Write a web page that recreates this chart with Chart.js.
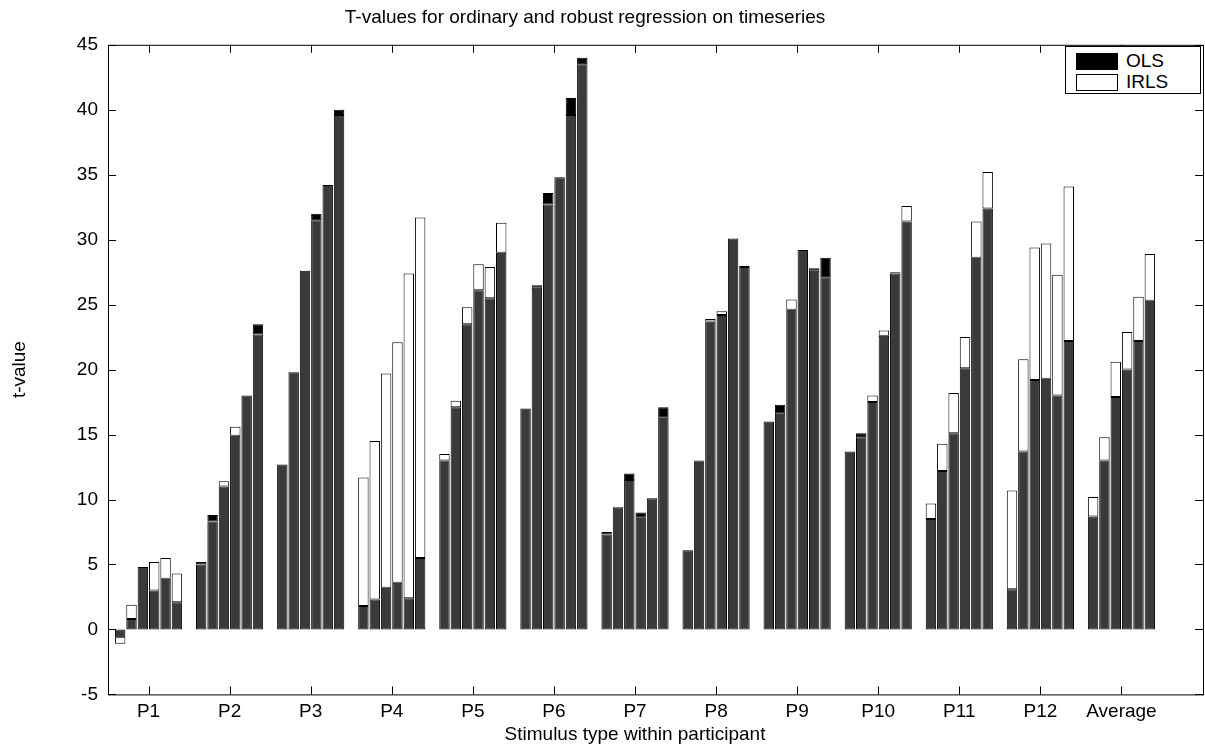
<!DOCTYPE html>
<html>
<head>
  <meta charset="UTF-8" />
  <script src="https://cdn.jsdelivr.net/npm/chart.js"></script>
  <style>
    body { margin: 0; background: #fff; }
    #wrap { position: relative; width: 1205px; height: 746px; }
    #legend {
      position: absolute; left: 1065px; top: 46px; width: 134px; height: 46px;
      border: 1px solid #000; background: #fff; font: 19px "Liberation Sans", Arial, sans-serif;
    }
    .row { position: absolute; left: 10px; height: 18px; }
    .sw { display: inline-block; width: 40px; height: 15px; border: 1px solid #000; vertical-align: middle; margin-right: 8px; }
  </style>
</head>
<body>
<div id="wrap">
  <canvas id="c" width="1205" height="746"></canvas>
  <div id="legend">
    <div class="row" style="top:3px"><span class="sw" style="background:#000"></span>OLS</div>
    <div class="row" style="top:24px"><span class="sw" style="background:#fff"></span>IRLS</div>
  </div>
</div>
<script>
  const groups = ['P1','P2','P3','P4','P5','P6','P7','P8','P9','P10','P11','P12','Average'];
  // t-values per group, 6 stimulus types each
  const ols = [
    [-0.6, 0.8, 4.8, 3.0, 3.9, 2.1],
    [5.2, 8.8, 11.0, 14.9, 18.0, 23.5],
    [12.7, 19.8, 27.6, 32.0, 34.2, 40.0],
    [1.8, 2.3, 3.2, 3.6, 2.4, 5.5],
    [13.0, 17.1, 23.5, 26.1, 25.5, 29.0],
    [17.0, 26.5, 33.6, 34.8, 40.9, 44.0],
    [7.5, 9.4, 12.0, 9.0, 10.1, 17.1],
    [6.1, 13.0, 23.7, 24.2, 30.1, 28.0],
    [16.0, 17.3, 24.6, 29.2, 27.8, 28.6],
    [13.7, 15.1, 17.5, 22.6, 27.5, 31.4],
    [8.5, 12.2, 15.1, 20.1, 28.6, 32.4],
    [3.1, 13.7, 19.2, 19.3, 18.0, 22.2],
    [8.7, 13.0, 17.9, 20.0, 22.2, 25.3]
  ];
  const irls = [
    [-1.1, 1.9, 4.8, 5.2, 5.5, 4.3],
    [5.0, 8.3, 11.4, 15.6, 18.0, 22.7],
    [12.7, 19.8, 27.6, 31.5, 34.2, 39.6],
    [11.7, 14.5, 19.7, 22.1, 27.4, 31.7],
    [13.5, 17.6, 24.8, 28.1, 27.9, 31.3],
    [17.0, 26.3, 32.7, 34.8, 39.6, 43.5],
    [7.3, 9.4, 11.5, 8.6, 10.1, 16.3],
    [6.1, 12.9, 23.9, 24.5, 30.1, 27.9],
    [16.0, 16.6, 25.4, 29.2, 27.6, 27.1],
    [13.7, 14.8, 18.0, 23.0, 27.4, 32.6],
    [9.7, 14.3, 18.2, 22.5, 31.4, 35.2],
    [10.7, 20.8, 29.4, 29.7, 27.3, 34.1],
    [10.2, 14.8, 20.6, 22.9, 25.6, 28.9]
  ];
  const yTicks = [-5, 0, 5, 10, 15, 20, 25, 30, 35, 40, 45];

  const FONT = '"Liberation Sans", Arial, sans-serif';
  const datasets = [];
  for (let j = 0; j < 6; j++) {
    const common = { stack: 's' + j, borderColor: '#000', borderWidth: 1, borderSkipped: false, categoryPercentage: 0.84, barPercentage: 0.92 };
    datasets.push(Object.assign({ label: 'both', backgroundColor: '#3a3a3a',
      data: groups.map((g, i) => Math.abs(ols[i][j]) < Math.abs(irls[i][j]) ? ols[i][j] : irls[i][j]) }, common));
    datasets.push(Object.assign({ label: 'OLS', backgroundColor: '#000',
      data: groups.map((g, i) => Math.abs(ols[i][j]) > Math.abs(irls[i][j]) ? ols[i][j] - irls[i][j] : 0) }, common));
    datasets.push(Object.assign({ label: 'IRLS', backgroundColor: '#fff',
      data: groups.map((g, i) => Math.abs(irls[i][j]) > Math.abs(ols[i][j]) ? irls[i][j] - ols[i][j] : 0) }, common));
  }

  const EXTRA = 41;
  const frame = {
    id: 'frame',
    afterDraw(chart) {
      const a = chart.chartArea, ctx = chart.ctx;
      const right = a.right + EXTRA;
      ctx.save();
      ctx.strokeStyle = '#000';
      ctx.lineWidth = 1;
      ctx.strokeRect(a.left + 0.5, a.top + 0.5, right - a.left, a.bottom - a.top);
      const ys = chart.scales.y, xs = chart.scales.x;
      ctx.beginPath();
      yTicks.forEach(v => {
        const y = Math.round(ys.getPixelForValue(v)) + 0.5;
        ctx.moveTo(a.left, y); ctx.lineTo(a.left + 8, y);
        ctx.moveTo(right, y); ctx.lineTo(right - 8, y);
      });
      groups.forEach((g, i) => {
        const x = Math.round(xs.getPixelForValue(i)) + 0.5;
        ctx.moveTo(x, a.bottom); ctx.lineTo(x, a.bottom - 8);
        ctx.moveTo(x, a.top); ctx.lineTo(x, a.top + 8);
      });
      ctx.stroke();
      ctx.restore();
    }
  };

  new Chart(document.getElementById('c'), {
    type: 'bar',
    data: { labels: groups, datasets: datasets },
    options: {
      responsive: false,
      animation: false,
      devicePixelRatio: 1,
      layout: { padding: { right: 2 + EXTRA, top: 0, left: 8, bottom: 0 } },
      scales: {
        x: {
          stacked: true,
          grid: { display: false, drawTicks: false },
          border: { display: false },
          ticks: { color: '#000', font: { family: FONT, size: 19 }, padding: 6 },
          title: { display: true, text: 'Stimulus type within participant', color: '#000', font: { family: FONT, size: 19 }, padding: { top: -6, bottom: 0 } }
        },
        y: {
          stacked: true,
          min: -5, max: 45,
          afterBuildTicks: s => { s.ticks = yTicks.map(v => ({ value: v })); },
          afterFit: s => { s.width = 100; },
          grid: { display: false, drawTicks: false },
          border: { display: false },
          ticks: { color: '#000', font: { family: FONT, size: 19 }, padding: 10 },
          title: { display: true, text: 't-value', color: '#000', font: { family: FONT, size: 19 }, padding: { top: 0, bottom: 4 } }
        }
      },
      plugins: {
        legend: { display: false },
        tooltip: { enabled: false },
        title: { display: true, text: 'T-values for ordinary and robust regression on timeseries', color: '#000', font: { family: FONT, size: 19, weight: 'normal' }, padding: { top: 6, bottom: 16 } }
      }
    },
    plugins: [frame]
  });
</script>
</body>
</html>
